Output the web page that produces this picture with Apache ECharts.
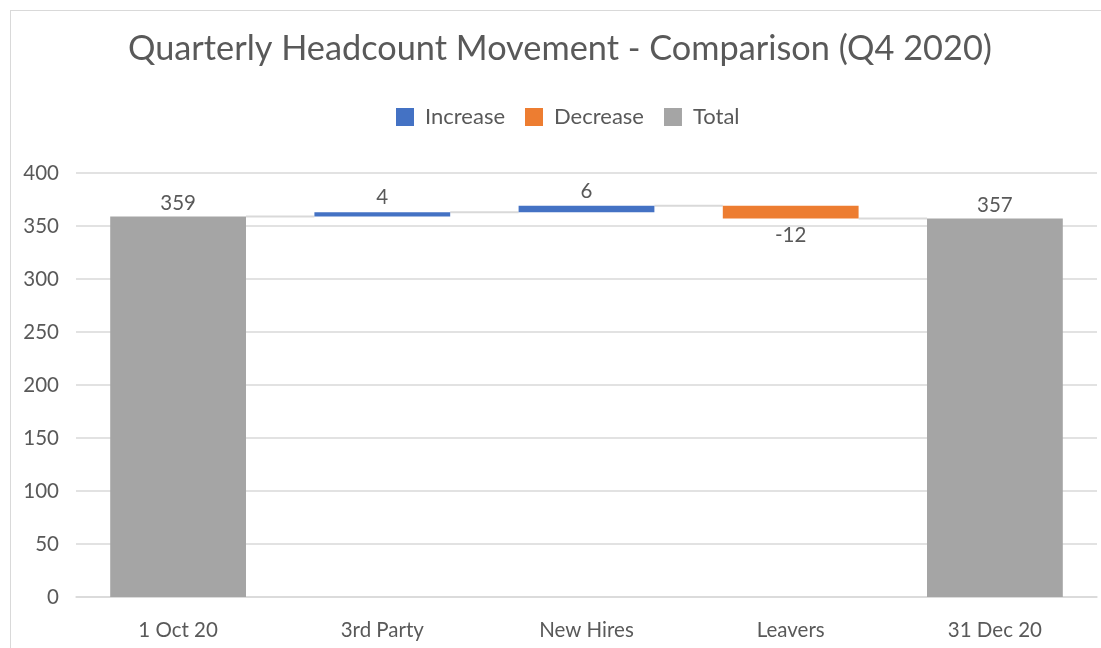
<!DOCTYPE html>
<html>
<head>
<meta charset="utf-8">
<script src="https://cdn.jsdelivr.net/npm/echarts@6/dist/echarts.min.js"></script>
<style>
  html, body { margin: 0; padding: 0; background: #fff; overflow: hidden; }
  #frame { position: absolute; left: 10px; top: 10px; width: 1200px; height: 800px; border: 1px solid #d9d9d9; }
  #chart { position: absolute; left: 0; top: 0; width: 1101px; height: 648px; }
</style>
</head>
<body>
<div id="frame"></div>
<div id="chart"></div>
<script>
var categories = ["1 Oct 20", "3rd Party", "New Hires", "Leavers", "31 Dec 20"];
var moves = [359, 4, 6, -12, 357];
var isTotal = [true, false, false, false, true];

// build waterfall pieces
var baseData = [], incData = [], decData = [], totData = [];
var running = 0;
for (var i = 0; i < moves.length; i++) {
    if (isTotal[i]) {
        running = moves[i];
        baseData.push(0);
        totData.push(moves[i]);
        incData.push('-');
        decData.push('-');
    } else if (moves[i] >= 0) {
        baseData.push(running);
        incData.push(moves[i]);
        decData.push('-');
        totData.push('-');
        running += moves[i];
    } else {
        running += moves[i];
        baseData.push(running);
        decData.push(-moves[i]);
        incData.push('-');
        totData.push('-');
    }
}
// connector level between bar i and i+1
var connectors = [];
var lvl = 0;
for (var i = 0; i < moves.length - 1; i++) {
    lvl = isTotal[i] ? moves[i] : lvl + moves[i];
    connectors.push([i, lvl]);
}

var textColor = "#595959";
var font = "Lato";
var barPct = 0.665;

var chart = echarts.init(document.getElementById("chart"));
chart.setOption({
    animation: false,
    textStyle: { fontFamily: font },
    title: {
        text: "Quarterly Headcount Movement - Comparison (Q4 2020)",
        left: 123,
        top: 27,
        textStyle: { fontFamily: font, fontSize: 34.3, fontWeight: "normal", color: textColor }
    },
    legend: {
        top: 101,
        left: 391,
        icon: "rect",
        itemWidth: 18,
        itemHeight: 18,
        itemGap: 20,
        data: ["Increase", "Decrease", "Total"],
        textStyle: { fontFamily: font, fontSize: 22, color: textColor, padding: [0, 0, 0, 6] }
    },
    grid: { left: 76, right: 4, top: 173, bottom: 51 },
    xAxis: {
        type: "category",
        data: categories,
        axisLine: { lineStyle: { color: "#d9d9d9", width: 1.5 } },
        axisTick: { show: false },
        axisLabel: { fontFamily: font, fontSize: 20.5, color: textColor, margin: 23 }
    },
    yAxis: {
        type: "value",
        min: 0,
        max: 400,
        interval: 50,
        axisLine: { show: false },
        axisTick: { show: false },
        splitLine: { lineStyle: { color: "#d9d9d9", width: 1.5 } },
        axisLabel: { fontFamily: font, fontSize: 20.5, color: textColor, margin: 17 }
    },
    series: [
        {
            name: "base", type: "bar", stack: "w", data: baseData,
            barWidth: (barPct * 100) + "%",
            itemStyle: { color: "transparent" }, silent: true
        },
        {
            name: "Increase", type: "bar", stack: "w", data: incData,
            itemStyle: { color: "#4472C4" },
            label: { show: true, position: "top", fontSize: 20.5, color: textColor, distance: 4 }
        },
        {
            name: "Decrease", type: "bar", stack: "w", data: decData,
            itemStyle: { color: "#ED7D31" },
            label: { show: true, position: "bottom", fontSize: 20.5, color: textColor, distance: 6,
                formatter: function (p) { return "-" + p.value; } }
        },
        {
            name: "Total", type: "bar", stack: "w", data: totData,
            itemStyle: { color: "#A5A5A5" },
            label: { show: true, position: "top", fontSize: 20.5, color: textColor, distance: 3 }
        },
        {
            name: "conn", type: "custom", data: connectors, z: 1, silent: true,
            renderItem: function (params, api) {
                var i = api.value(0);
                var a = api.coord([i, api.value(1)]);
                var b = api.coord([i + 1, api.value(1)]);
                var half = api.size([1, 0])[0] * barPct / 2;
                return {
                    type: "line",
                    shape: { x1: a[0] + half, y1: a[1], x2: b[0] - half, y2: b[1] },
                    style: { stroke: "#d9d9d9", lineWidth: 2 }
                };
            }
        }
    ]
});
</script>
</body>
</html>
